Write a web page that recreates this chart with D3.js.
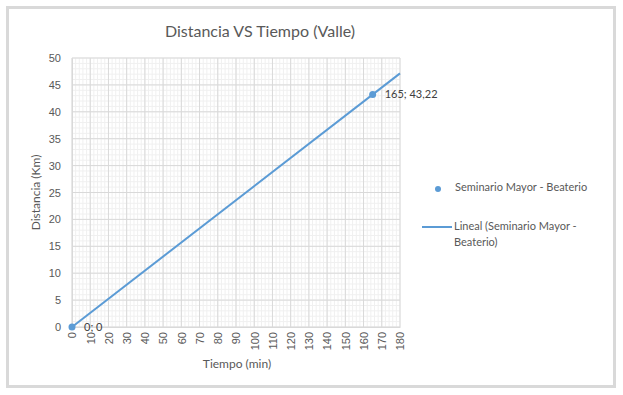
<!DOCTYPE html>
<html lang="es">
<head>
<meta charset="UTF-8">
<title>Distancia VS Tiempo (Valle)</title>
<script src="https://cdn.jsdelivr.net/npm/d3@7/dist/d3.min.js"></script>
<style>
    body { margin: 0; background: #fff; }
    svg { display: block; font-family: 'Lato', 'Open Sans', sans-serif; }
    .tick text { fill: #595959; font-size: 11px; }
</style>
</head>
<body>
<script>
    // datos
    const tiempo = [0, 165];
    const distancia = [0, 43.22];
    const etiquetas = ['0; 0', '165; 43,22'];
    const serieNombre = 'Seminario Mayor - Beaterio';
    const xTicks = d3.range(0, 181, 10);
    const yTicks = d3.range(0, 51, 5);

    const width = 623, height = 395;
    const m = { left: 72, right: 400, top: 58, bottom: 327 };
    const azul = '#5b9bd5';
    const gris = '#595959';

    let svg = d3.select('body').append('svg')
        .attr('width', width)
        .attr('height', height);

    // marco
    svg.append('rect')
        .attr('x', 7.5).attr('y', 7.5)
        .attr('width', 607).attr('height', 379)
        .attr('fill', '#fff')
        .attr('stroke', '#d9d9d9')
        .attr('stroke-width', 3);

    let x = d3.scaleLinear().domain([0, 180]).range([m.left, m.right]);
    let y = d3.scaleLinear().domain([0, 50]).range([m.bottom, m.top]);

    // rejilla menor
    let grid = svg.append('g');
    grid.selectAll('.vmin').data(d3.range(0, 181, 2)).enter().append('line')
        .attr('x1', d => x(d)).attr('x2', d => x(d))
        .attr('y1', m.top).attr('y2', m.bottom)
        .attr('stroke', '#f0f0f0').attr('stroke-width', 1);
    grid.selectAll('.hmin').data(d3.range(0, 51, 1)).enter().append('line')
        .attr('x1', m.left).attr('x2', m.right)
        .attr('y1', d => y(d)).attr('y2', d => y(d))
        .attr('stroke', '#f0f0f0').attr('stroke-width', 1);
    // rejilla mayor
    grid.selectAll('.vmaj').data(xTicks).enter().append('line')
        .attr('x1', d => x(d)).attr('x2', d => x(d))
        .attr('y1', m.top).attr('y2', m.bottom)
        .attr('stroke', '#d9d9d9').attr('stroke-width', 1);
    grid.selectAll('.hmaj').data(yTicks).enter().append('line')
        .attr('x1', m.left).attr('x2', m.right)
        .attr('y1', d => y(d)).attr('y2', d => y(d))
        .attr('stroke', '#d9d9d9').attr('stroke-width', 1);

    // ejes
    let xAxis = svg.append('g')
        .attr('transform', 'translate(0,' + m.bottom + ')')
        .call(d3.axisBottom(x).tickValues(xTicks).tickSize(0).tickPadding(4));
    xAxis.select('.domain').attr('stroke', '#d9d9d9');
    xAxis.selectAll('text')
        .attr('transform', 'rotate(-90)')
        .attr('text-anchor', 'end')
        .attr('dy', '0.35em')
        .attr('x', -5)
        .attr('y', 0);

    let yAxis = svg.append('g')
        .attr('transform', 'translate(' + m.left + ',0)')
        .call(d3.axisLeft(y).tickValues(yTicks).tickSize(0).tickPadding(11));
    yAxis.select('.domain').attr('stroke', '#d9d9d9');

    // línea de tendencia (regresión lineal)
    const mx = d3.mean(tiempo), my = d3.mean(distancia);
    const pend = d3.sum(tiempo.map((t, i) => (t - mx) * (distancia[i] - my))) /
                 d3.sum(tiempo.map(t => (t - mx) * (t - mx)));
    const inter = my - pend * mx;
    svg.append('line')
        .attr('x1', x(0)).attr('y1', y(inter))
        .attr('x2', x(180)).attr('y2', y(inter + pend * 180))
        .attr('stroke', azul).attr('stroke-width', 2);

    // puntos
    svg.selectAll('.pt').data(tiempo).enter().append('circle')
        .attr('cx', d => x(d))
        .attr('cy', (d, i) => y(distancia[i]))
        .attr('r', 3.5)
        .attr('fill', azul);

    // etiquetas de datos
    svg.selectAll('.lbl').data(tiempo).enter().append('text')
        .attr('x', d => x(d) + 12)
        .attr('y', (d, i) => y(distancia[i]) + 4)
        .attr('fill', '#404040')
        .style('font-size', '11px')
        .text((d, i) => etiquetas[i]);

    // títulos
    svg.append('text')
        .attr('x', 260).attr('y', 37)
        .attr('text-anchor', 'middle')
        .attr('fill', gris)
        .style('font-size', '16px')
        .text('Distancia VS Tiempo (Valle)');

    svg.append('text')
        .attr('transform', 'translate(40,' + ((m.top + m.bottom) / 2) + ') rotate(-90)')
        .attr('text-anchor', 'middle')
        .attr('fill', gris)
        .style('font-size', '12px')
        .text('Distancia (Km)');

    svg.append('text')
        .attr('x', 237).attr('y', 368)
        .attr('text-anchor', 'middle')
        .attr('fill', gris)
        .style('font-size', '12px')
        .text('Tiempo (min)');

    // leyenda
    let leg = svg.append('g').style('font-size', '11px').attr('fill', gris);
    leg.append('circle').attr('cx', 438).attr('cy', 189).attr('r', 3).attr('fill', azul);
    leg.append('text').attr('x', 455).attr('y', 191).text(serieNombre);
    leg.append('line').attr('x1', 422).attr('x2', 452).attr('y1', 227).attr('y2', 227)
        .attr('stroke', azul).attr('stroke-width', 2);
    leg.append('text').attr('x', 454).attr('y', 230).text('Lineal (' + serieNombre.replace(' Beaterio', ''));
    leg.append('text').attr('x', 454).attr('y', 246).text('Beaterio)');
</script>
</body>
</html>
